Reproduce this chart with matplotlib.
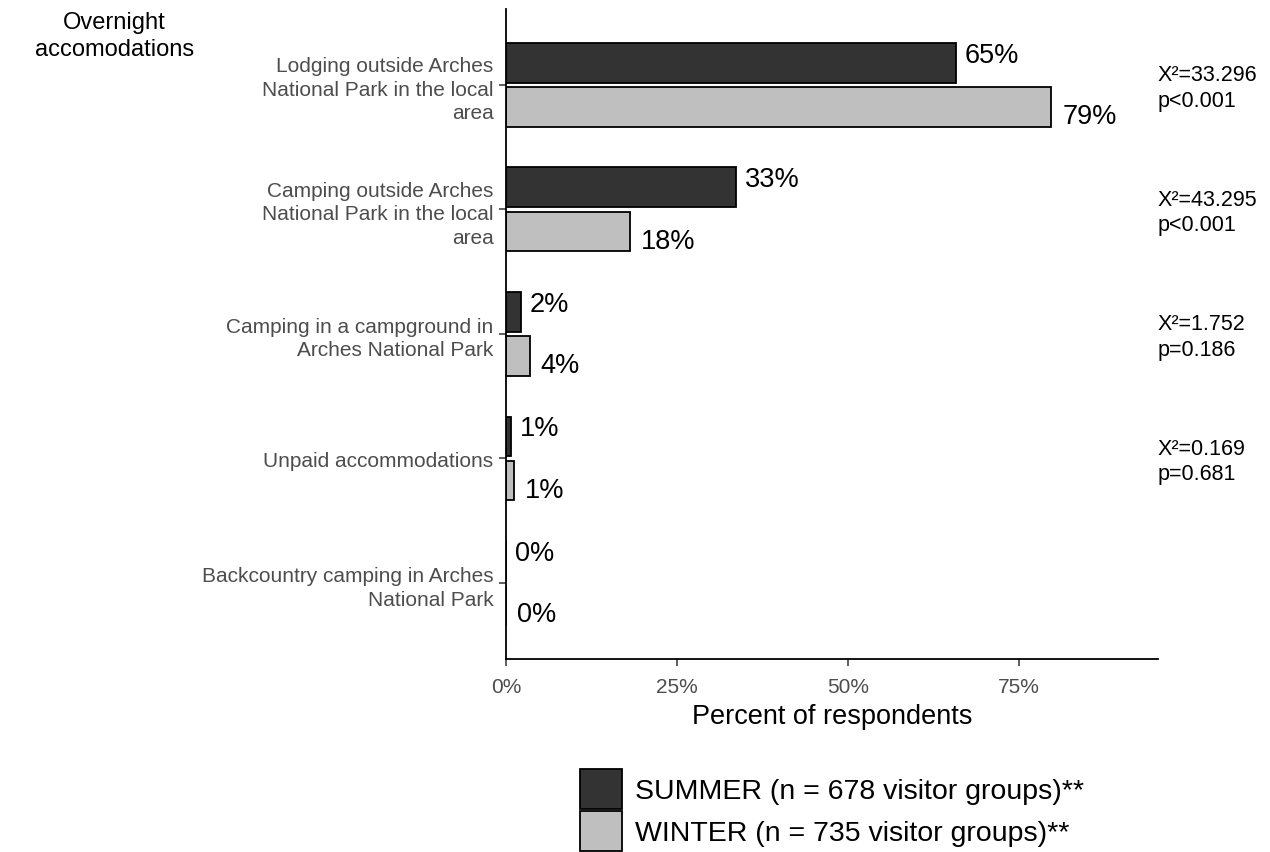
import matplotlib.pyplot as plt
from matplotlib.patches import Patch

plt.rcParams['font.family'] = ['Liberation Sans', 'DejaVu Sans']

categories = ['Lodging outside Arches\nNational Park in the local\narea',
              'Camping outside Arches\nNational Park in the local\narea',
              'Camping in a campground in\nArches National Park',
              'Unpaid accommodations',
              'Backcountry camping in Arches\nNational Park']
summer = [65.8, 33.6, 2.2, 0.7, 0.0]
winter = [79.7, 18.1, 3.5, 1.2, 0.0]
summer_labels = ['65%', '33%', '2%', '1%', '0%']
winter_labels = ['79%', '18%', '4%', '1%', '0%']
stats = ['X\u00b2=33.296\np<0.001', 'X\u00b2=43.295\np<0.001',
         'X\u00b2=1.752\np=0.186', 'X\u00b2=0.169\np=0.681']
xticks = [0, 25, 50, 75]
xtick_labels = ['0%', '25%', '50%', '75%']

summer_color = '#333333'
winter_color = '#bfbfbf'

fig = plt.figure(figsize=(12.7, 8.53), dpi=100)
ax = fig.add_axes([0.3984, 0.2263, 0.5134, 0.762])

bh = 0.32
off = 0.177
ypos = list(range(len(categories)))
ys = [y - off for y in ypos]
yw = [y + off for y in ypos]
ax.barh(ys, summer, height=bh, color=summer_color, edgecolor='black', linewidth=1.3)
ax.barh(yw, winter, height=bh, color=winter_color, edgecolor='black', linewidth=1.3)

# value labels: summer sits a little above its bar, winter a little below
for y, v, lab in zip(ys, summer, summer_labels):
    ax.text(v + 1.3, y - 0.065, lab, va='center', ha='left', fontsize=19.5, color='black')
for y, v, lab in zip(yw, winter, winter_labels):
    ax.text(v + 1.6, y + 0.075, lab, va='center', ha='left', fontsize=19.5, color='black')

for y, s in zip(ypos, stats):
    ax.text(1.0, y + 0.02, s, transform=ax.get_yaxis_transform(), ha='left', va='center',
            fontsize=15.5, color='black', linespacing=1.3)

ax.set_ylim(4.61, -0.61)
ax.set_xlim(0, 95.3)
ax.set_yticks(ypos)
ax.set_yticklabels(categories, fontsize=15, color='#4d4d4d', linespacing=1.3)
ax.set_xticks(xticks)
ax.set_xticklabels(xtick_labels, fontsize=15, color='#4d4d4d')
ax.set_xlabel('Percent of respondents', fontsize=19.5, labelpad=5)

for side in ['top', 'right']:
    ax.spines[side].set_visible(False)
for side in ['left', 'bottom']:
    ax.spines[side].set_linewidth(1.3)
ax.tick_params(axis='both', length=5, width=1.1, color='#333333', pad=4)
ax.tick_params(axis='x', pad=8)

fig.text(0.09, 0.957, 'Overnight\naccomodations', ha='center', va='center',
         fontsize=17, linespacing=1.33)

handles = [Patch(facecolor=summer_color, edgecolor='black', linewidth=1.3),
           Patch(facecolor=winter_color, edgecolor='black', linewidth=1.3)]
fig.legend(handles, ['SUMMER (n = 678 visitor groups)**', 'WINTER (n = 735 visitor groups)**'],
           loc='lower center', bbox_to_anchor=(0.655, -0.019), frameon=False, fontsize=20.5,
           handlelength=1.47, handleheight=1.78, handletextpad=0.45, labelspacing=0.07,
           borderaxespad=0.2)

fig.savefig('out.png', dpi=100)
